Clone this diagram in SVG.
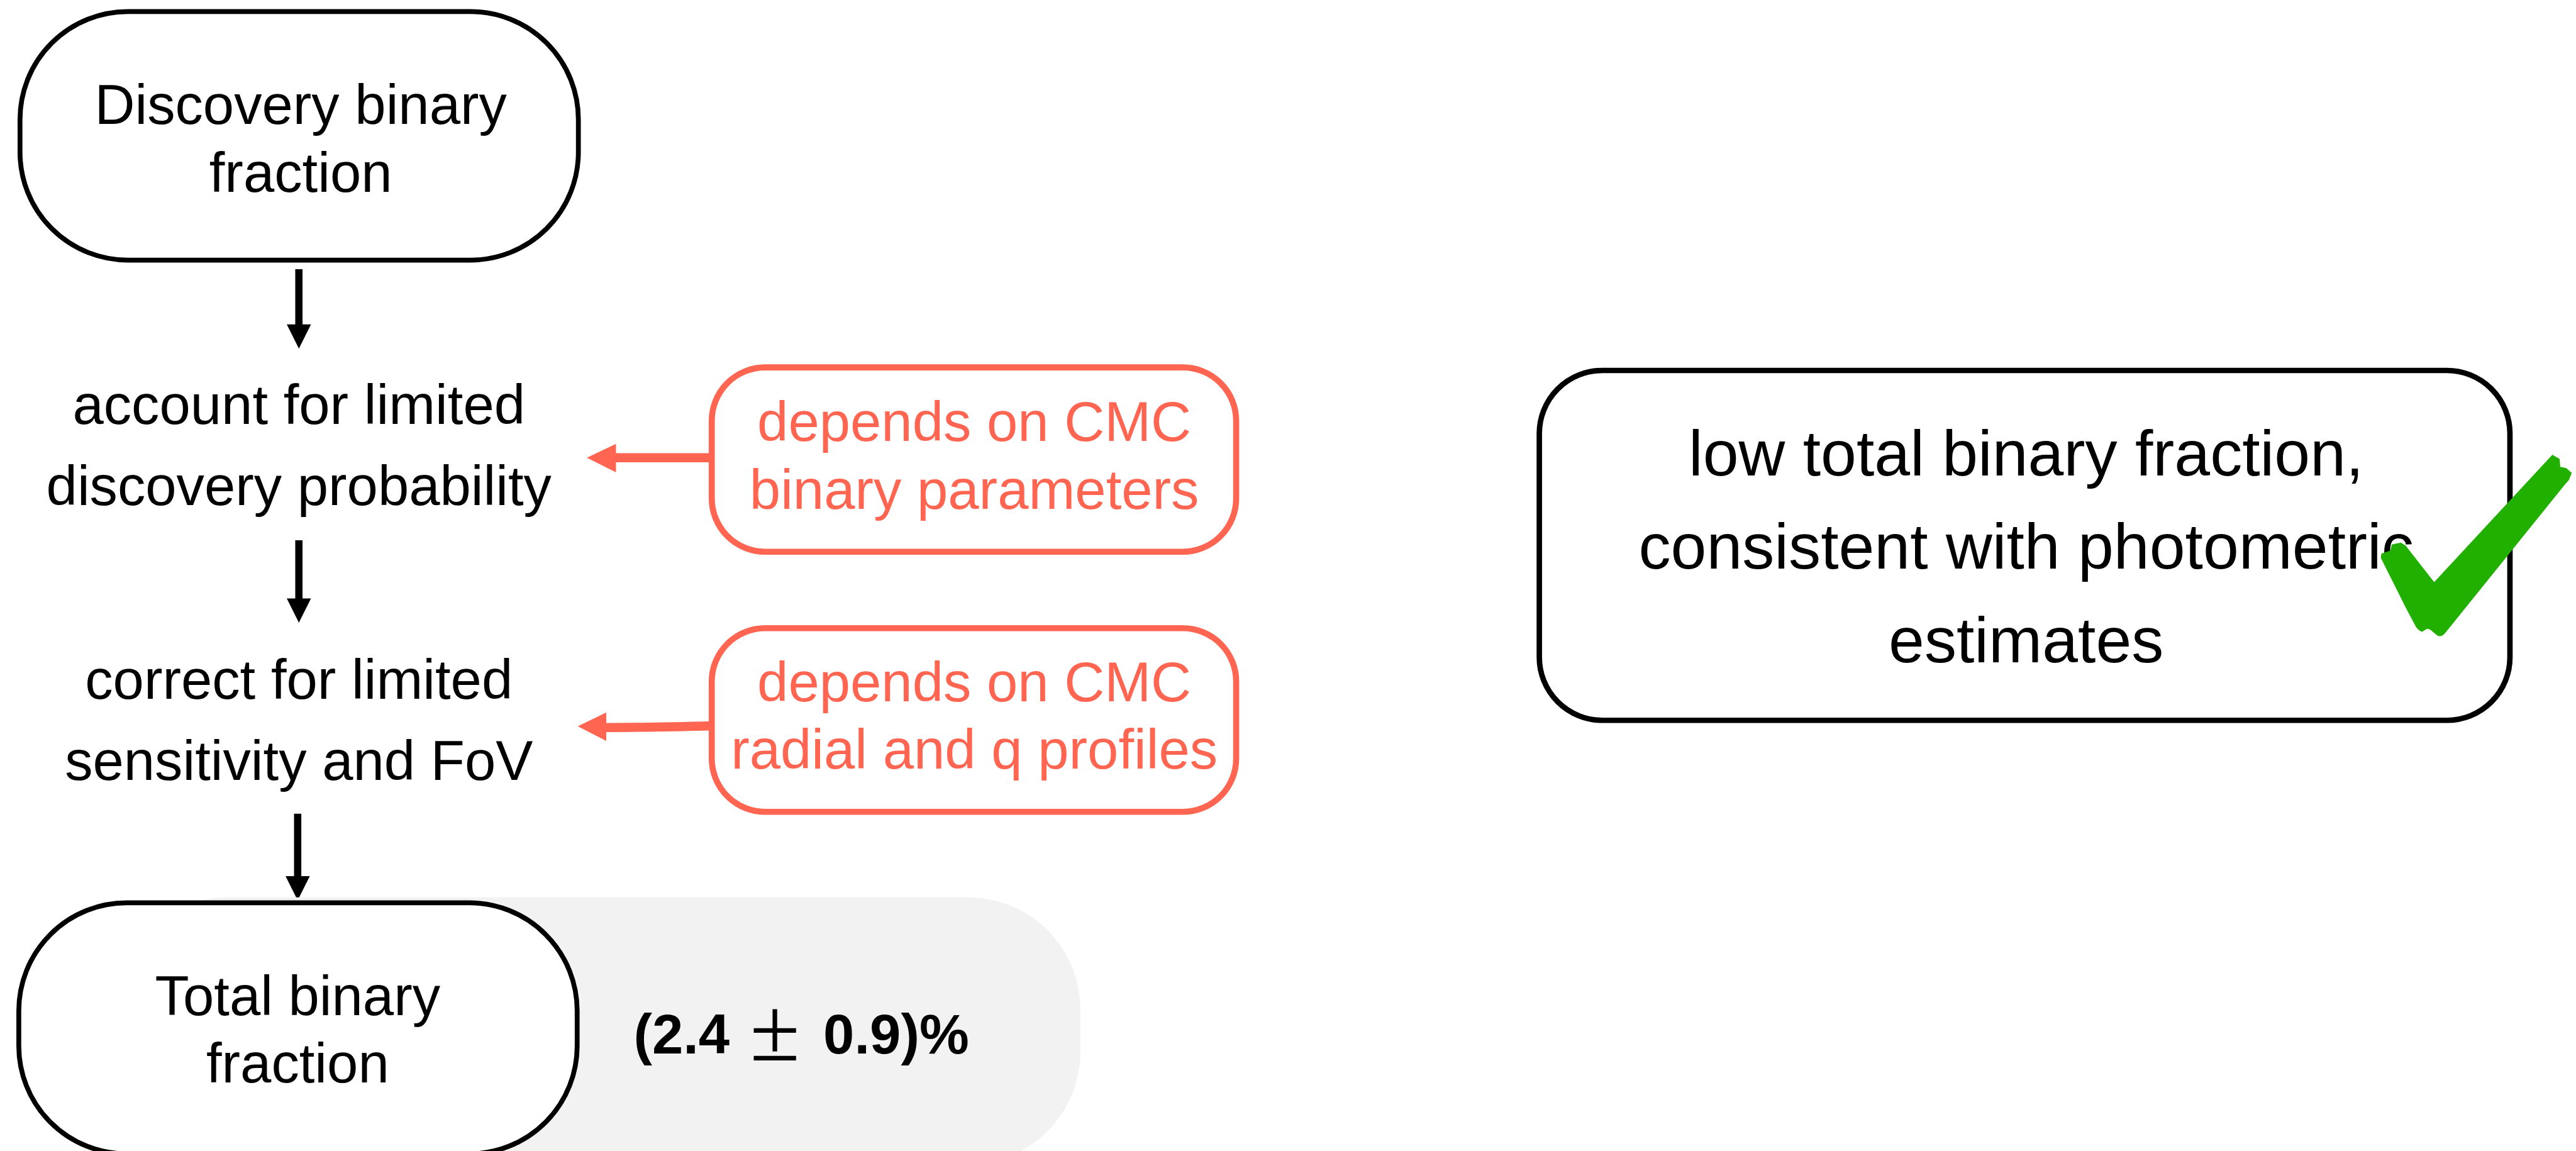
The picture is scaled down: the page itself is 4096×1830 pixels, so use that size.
<svg xmlns="http://www.w3.org/2000/svg" width="4096" height="1830" viewBox="0 0 4096 1830">
<style>
.t{font-family:"Liberation Sans",Arial,sans-serif;font-size:92px;fill:#000;text-anchor:middle}
.r{fill:#FF6550}
.box{fill:#fff;stroke:#000;stroke-width:8}
.rbox{fill:#fff;stroke:#FF6550;stroke-width:10}
.blk{stroke:#000;stroke-width:12;fill:none}
.red{stroke:#FF6550;stroke-width:15;fill:none}
</style>
<rect width="4096" height="1830" fill="#fff"/>
<g transform="scale(0.964)">
<g id="connectors">
<line class="blk" x1="493" y1="444" x2="493" y2="537"/>
<polygon points="473,535 513,535 493,575" fill="#000"/>
<line class="blk" x1="493" y1="891" x2="493" y2="989"/>
<polygon points="473,987 513,987 493,1027" fill="#000"/>
<line class="blk" x1="491" y1="1342" x2="491" y2="1447"/>
<polygon points="471,1445 511,1445 491,1485" fill="#000"/>
<line class="red" x1="1174" y1="755" x2="1012" y2="755"/>
<polygon points="968,755 1016,732 1016,779" fill="#FF6550"/>
<path class="red" d="M1174,1197 C1100,1199 1060,1200 996,1200"/>
<polygon points="953,1198 1000,1175 1000,1222" fill="#FF6550"/>
</g>
<g id="discovery">
<rect class="box" x="33" y="19" width="921" height="410" rx="178" ry="178"/>
<text class="t" x="496" y="204">Discovery binary</text>
<text class="t" x="496" y="316">fraction</text>
</g>
<g id="account">
<text class="t" x="493" y="699">account for limited</text>
<text class="t" x="493" y="833">discovery probability</text>
</g>
<g id="correct">
<text class="t" x="493" y="1152">correct for limited</text>
<text class="t" x="493" y="1286">sensitivity and FoV</text>
</g>
<g id="dep1">
<rect class="rbox" x="1174" y="606" width="865" height="304" rx="88" ry="88"/>
<text class="t r" x="1607" y="727">depends on CMC</text>
<text class="t r" x="1607" y="839">binary parameters</text>
</g>
<g id="dep2">
<rect class="rbox" x="1174" y="1036" width="865" height="303" rx="88" ry="88"/>
<text class="t r" x="1607" y="1157">depends on CMC</text>
<text class="t r" x="1607" y="1268">radial and q profiles</text>
</g>
<g id="total">
<rect x="190" y="1480" width="1592" height="440" rx="185" ry="185" fill="#F2F2F2"/>
<rect class="box" x="31" y="1489" width="921" height="414" rx="178" ry="178"/>
<text class="t" x="491" y="1674">Total binary</text>
<text class="t" x="491" y="1785">fraction</text>
<text x="1045" y="1738" style="font-family:'Liberation Sans',Arial,sans-serif;font-size:92px;font-weight:bold">(2.4</text>
<text x="1237" y="1749" style="font-family:'Liberation Serif','Times New Roman',serif;font-size:150px">±</text>
<text x="1358" y="1738" style="font-family:'Liberation Sans',Arial,sans-serif;font-size:92px;font-weight:bold">0.9)%</text>
</g>
<g id="conclusion">
<rect x="2539" y="611" width="1601" height="577" rx="104" ry="104" fill="#fff" stroke="#000" stroke-width="9"/>
<text class="t" x="3342" y="784" style="font-size:106px">low total binary fraction,</text>
<text class="t" x="3342" y="938" style="font-size:106px">consistent with photometric</text>
<text class="t" x="3342" y="1092" style="font-size:106px">estimates</text>
<path d="M4210,750 L4222,757 L4223,770 L4233,772 L4242,780 L4237,792 L4230,800 L4034,1043 Q4027,1052 4020,1048 L4008,1038 L4003,1037 L3995,1042 Q3990,1041 3985,1034 L3967,1000 L3927,920 L3928,913 L3943,908 L3945,898 L3960,895 L3968,900 L4015,960 Z" fill="#21AF00"/>
</g>
</g>
</svg>
